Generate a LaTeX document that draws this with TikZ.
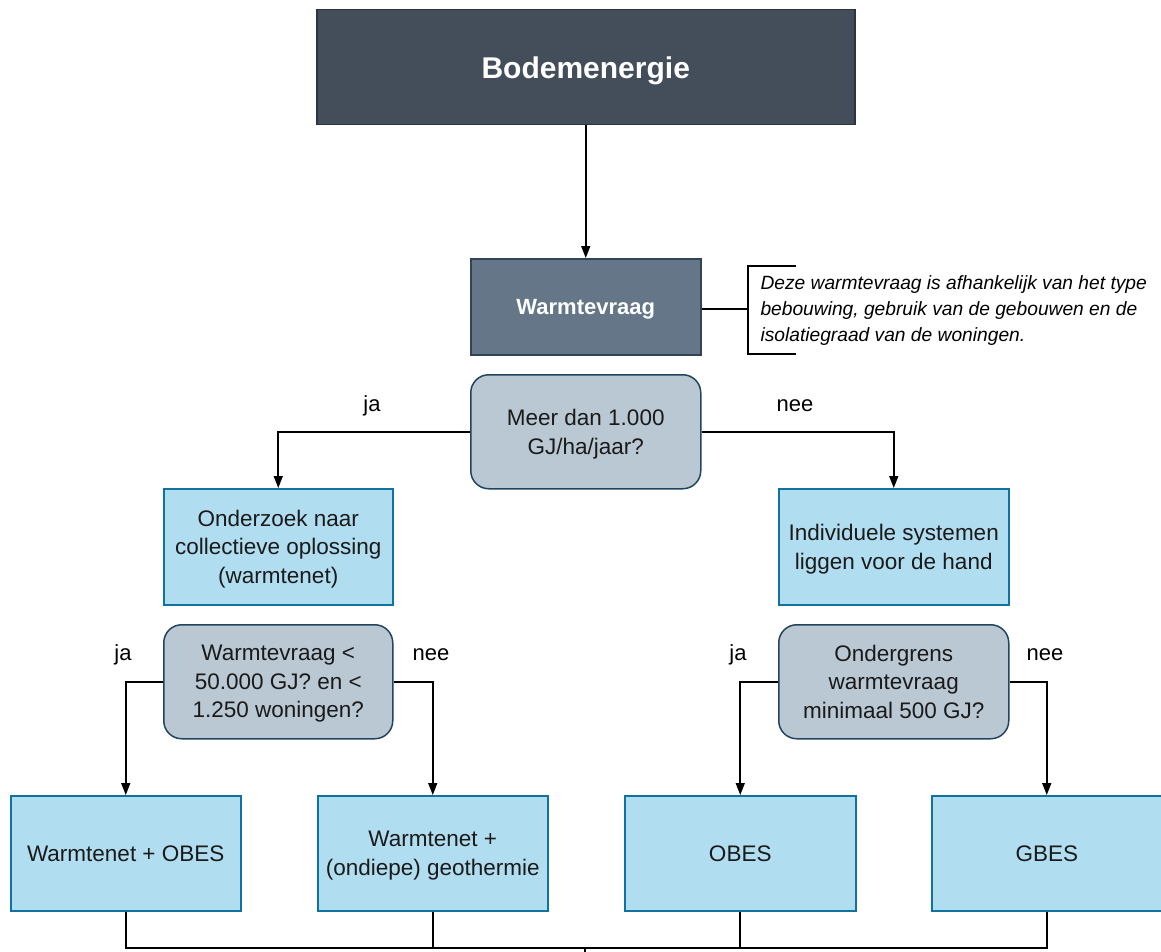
\documentclass[tikz,border=0pt]{standalone}
\usepackage{fontspec}
\setmainfont{Liberation Sans}
\usetikzlibrary{arrows.meta,positioning}
\definecolor{darkfill}{HTML}{444E5B}
\definecolor{darkline}{HTML}{2B3541}
\definecolor{slatefill}{HTML}{647687}
\definecolor{slateline}{HTML}{314354}
\definecolor{grayfill}{HTML}{BAC8D3}
\definecolor{grayline}{HTML}{23445D}
\definecolor{bluefill}{HTML}{B1DDF0}
\definecolor{blueline}{HTML}{10739E}
\definecolor{txt}{HTML}{1A1A1A}
\tikzset{
  base/.style={draw, line width=1.5pt, inner sep=0pt, align=center, anchor=north west,
    text depth=0pt},
  topbox/.style={base, fill=darkfill, draw=darkline, text=white, font=\bfseries\fontsize{30}{36}\selectfont},
  slatebox/.style={base, fill=slatefill, draw=slateline, text=white, font=\bfseries\fontsize{22}{28}\selectfont},
  decision/.style={base, fill=grayfill, draw=grayline, rounded corners=18pt, text=txt, font=\fontsize{22.5}{28.5}\selectfont},
  result/.style={base, fill=bluefill, draw=blueline, text=txt, font=\fontsize{22.5}{28.5}\selectfont},
  conn/.style={line width=1.6pt, black},
  arr/.style={conn, -{Triangle[length=12pt,width=9pt]}},
  lbl/.style={font=\fontsize{22}{26}\selectfont, text=black},
  note/.style={font=\itshape\fontsize{19.2}{26}\selectfont, align=left, anchor=west, text=black}
}
\begin{document}
\begin{tikzpicture}[x=1pt,y=-1pt]
\useasboundingbox (0,0) rectangle (1161,952);

% main boxes
\node[topbox, minimum width=538pt, minimum height=115pt] (bodem) at (316,9) {Bodemenergie};
\node[slatebox, minimum width=230pt, minimum height=96pt] (vraag) at (470,258) {Warmtevraag};

% annotation bracket
\coordinate (brt) at (796,266);
\coordinate (brb) at (796,354);
\coordinate (brm) at (748,309);
\draw[conn, line width=1.3pt] (brt) -- (748,266) -- (748,354) -- (brb);
\draw[conn, line width=1.3pt] (vraag.east |- brm) -- (brm);
\node[note] (notetext) at (757,311) {Deze warmtevraag is afhankelijk van het type\\bebouwing, gebruik van de gebouwen en de\\isolatiegraad van de woningen.};

% first decision
\node[decision, minimum width=230pt, minimum height=114pt] (d1) at (470,374) {Meer dan 1.000\\GJ/ha/jaar?};
\node[result, minimum width=229pt, minimum height=116pt] (coll) at (163,488) {Onderzoek naar\\collectieve oplossing\\(warmtenet)};
\node[result, minimum width=230pt, minimum height=116pt] (indiv) at (778,488) {Individuele systemen\\liggen voor de hand};

% second row of decisions
\node[decision, minimum width=229pt, minimum height=114pt] (d2) at (163,624) {Warmtevraag <\\50.000 GJ? en <\\1.250 woningen?};
\node[decision, minimum width=230pt, minimum height=114pt] (d3) at (778,624) {Ondergrens\\warmtevraag\\minimaal 500 GJ?};

% outcomes
\node[result, minimum width=230pt, minimum height=115pt] (r1) at (10,795) {Warmtenet + OBES};
\node[result, minimum width=230pt, minimum height=115pt] (r2) at (317,795) {Warmtenet +\\(ondiepe) geothermie};
\node[result, minimum width=231pt, minimum height=115pt] (r3) at (624,795) {OBES};
\node[result, minimum width=230pt, minimum height=115pt] (r4) at (931,795) {GBES};

% connectors
\draw[arr] (bodem.south) -- (vraag.north);
\draw[arr] (d1.west) -| (coll.north);
\draw[arr] (d1.east) -| (indiv.north);
\draw[arr] (d2.west) -| (r1.north);
\draw[arr] (d2.east) -| (r2.north);
\draw[arr] (d3.west) -| (r3.north);
\draw[arr] (d3.east) -| (r4.north);

\node[lbl] (ja1) at (372,406) {ja};
\node[lbl] (nee1) at (795,406) {nee};
\node[lbl] (ja2) at (123,655) {ja};
\node[lbl] (nee2) at (431,655) {nee};
\node[lbl] (ja3) at (738,655) {ja};
\node[lbl] (nee3) at (1045,655) {nee};

% merge below the outcomes
\coordinate (merge) at (585,948);
\coordinate (exit) at (585,956);
\draw[conn] (r1.south) |- (merge);
\draw[conn] (r2.south) |- (merge);
\draw[conn] (r3.south) |- (merge);
\draw[conn] (r4.south) |- (merge);
\draw[conn] (merge) -- (exit);
\end{tikzpicture}
\end{document}
